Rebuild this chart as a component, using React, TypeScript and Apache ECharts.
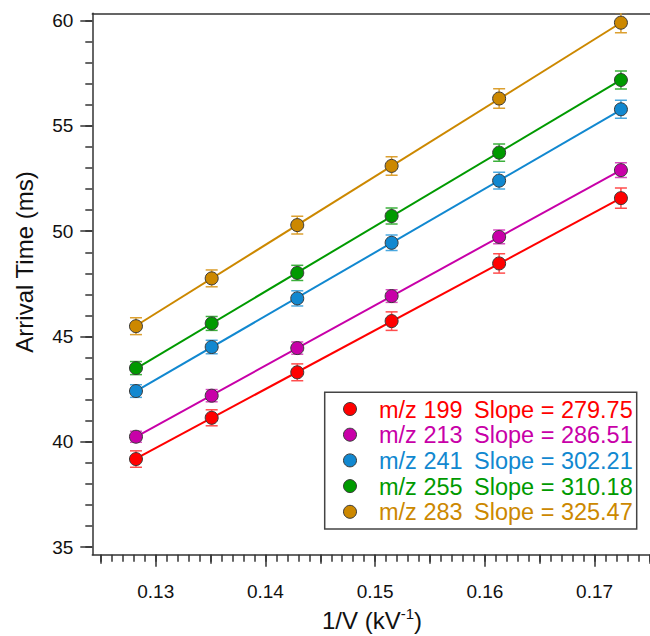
import React, { useEffect, useRef } from 'react';
import * as echarts from 'echarts';

// ---- data ----
const X_VALUES = [0.1282, 0.1351, 0.1429, 0.1515, 0.1613, 0.1724];

const MASS_LABELS = ['m/z 199', 'm/z 213', 'm/z 241', 'm/z 255', 'm/z 283'];
const SLOPES = [279.75, 286.51, 302.21, 310.18, 325.47];

const MZ199 = [39.18, 41.14, 43.3, 45.73, 48.47, 51.57];
const MZ213 = [40.24, 42.19, 44.45, 46.92, 49.73, 52.9];
const MZ241 = [42.41, 44.5, 46.81, 49.45, 52.4, 55.79];
const MZ255 = [43.5, 45.62, 48.02, 50.72, 53.73, 57.18];
const MZ283 = [45.49, 47.76, 50.29, 53.1, 56.3, 59.9];

const ERR199 = [0.39, 0.38, 0.4, 0.44, 0.46, 0.48];
const ERR213 = [0.26, 0.29, 0.29, 0.3, 0.33, 0.35];
const ERR241 = [0.3, 0.32, 0.36, 0.37, 0.4, 0.43];
const ERR255 = [0.31, 0.33, 0.36, 0.38, 0.41, 0.43];
const ERR283 = [0.4, 0.4, 0.42, 0.44, 0.46, 0.48];

const X_TICK_LABELS = [0.13, 0.14, 0.15, 0.16, 0.17];
const Y_TICK_LABELS = [35, 40, 45, 50, 55, 60];

// ---- styling ----
const COLORS = ['#ff0000', '#c800a8', '#1188d0', '#009a00', '#cc8800'];
const BAR_COLORS = ['#ff4d4d', '#d84cc0', '#4aa8e0', '#3cb03c', '#dca030'];
const AXIS_COLOR = '#333333';
const TEXT_COLOR = '#111111';
const FONT = "'Liberation Sans', Arial, sans-serif";

const X_MIN = 0.12422;
const X_MAX = 0.17505;
const Y_MIN = 34.634;
const Y_MAX = 60.347;

const SERIES_Y = [MZ199, MZ213, MZ241, MZ255, MZ283];
const SERIES_ERR = [ERR199, ERR213, ERR241, ERR255, ERR283];

function range(a: number, b: number, step: number, scale: number): number[] {
  const out: number[] = [];
  for (let i = a; i <= b; i += step) out.push(i / scale);
  return out;
}

const X_MEDIUM_TICKS = range(125, 175, 10, 1000);
const X_MINOR_TICKS = range(125, 175, 1, 1000);
const Y_MINOR_TICKS = range(35, 60, 1, 1);

export default function App() {
  const ref = useRef<HTMLDivElement>(null);

  useEffect(() => {
    if (!ref.current) return;
    const chart = echarts.init(ref.current, undefined, { renderer: 'svg' });

    const series: any[] = [];
    SERIES_Y.forEach((ys, k) => {
      const n = ys.length;
      const mx = X_VALUES.reduce((s, v) => s + v, 0) / n;
      const my = ys.reduce((s, v) => s + v, 0) / n;
      const b = my - SLOPES[k] * mx;
      const x0 = X_VALUES[0];
      const x1 = X_VALUES[n - 1];
      series.push({
        type: 'line',
        name: MASS_LABELS[k] + ' fit',
        xAxisIndex: 0,
        yAxisIndex: 0,
        data: [
          [x0, SLOPES[k] * x0 + b],
          [x1, SLOPES[k] * x1 + b],
        ],
        showSymbol: false,
        symbol: 'none',
        lineStyle: { color: COLORS[k], width: 2 },
        z: 2,
        silent: true,
      });
      const errs = SERIES_ERR[k];
      series.push({
        type: 'custom',
        name: MASS_LABELS[k] + ' err',
        xAxisIndex: 0,
        yAxisIndex: 0,
        clip: true,
        silent: true,
        z: 3,
        data: X_VALUES.map((x, i) => [x, ys[i] - errs[i], ys[i] + errs[i]]),
        encode: { x: 0, y: [1, 2] },
        renderItem: (params: any, api: any) => {
          const x = api.value(0);
          const lo = api.coord([x, api.value(1)]);
          const hi = api.coord([x, api.value(2)]);
          const w = 6;
          const style = { stroke: BAR_COLORS[k], lineWidth: 1.5 };
          return {
            type: 'group',
            children: [
              { type: 'line', shape: { x1: lo[0], y1: lo[1], x2: hi[0], y2: hi[1] }, style },
              { type: 'line', shape: { x1: lo[0] - w, y1: lo[1], x2: lo[0] + w, y2: lo[1] }, style },
              { type: 'line', shape: { x1: hi[0] - w, y1: hi[1], x2: hi[0] + w, y2: hi[1] }, style },
            ],
          };
        },
      });
      series.push({
        type: 'scatter',
        name: MASS_LABELS[k],
        xAxisIndex: 0,
        yAxisIndex: 0,
        data: X_VALUES.map((x, i) => [x, ys[i]]),
        symbol: 'circle',
        symbolSize: 13,
        itemStyle: { color: COLORS[k], borderColor: '#3a3a3a', borderWidth: 1, opacity: 1 },
        z: 4,
        silent: true,
      });
    });

    const baseX = { type: 'value', min: X_MIN, max: X_MAX, gridIndex: 0, splitLine: { show: false } };
    const baseY = { type: 'value', min: Y_MIN, max: Y_MAX, gridIndex: 0, splitLine: { show: false } };

    const legendChildren: any[] = [];
    const boxLeft = 324.7;
    const boxTop = 392.3;
    legendChildren.push({
      type: 'rect',
      shape: { x: boxLeft, y: boxTop, width: 312, height: 136.7 },
      style: { fill: '#ffffff', stroke: '#444444', lineWidth: 1.5 },
    });
    MASS_LABELS.forEach((lab, k) => {
      const cy = 409 + 25.7 * k;
      legendChildren.push({
        type: 'circle',
        shape: { cx: 350, cy, r: 6.5 },
        style: { fill: COLORS[k], stroke: '#3a3a3a', lineWidth: 1 },
      });
      legendChildren.push({
        type: 'text',
        x: 379,
        y: cy + 0.5,
        style: {
          text: lab,
          fill: COLORS[k],
          font: `23.5px ${FONT}`,
          textAlign: 'left',
          textVerticalAlign: 'middle',
        },
      });
      legendChildren.push({
        type: 'text',
        x: 474,
        y: cy + 0.5,
        style: {
          text: 'Slope = ' + SLOPES[k].toFixed(2),
          fill: COLORS[k],
          font: `23.5px ${FONT}`,
          textAlign: 'left',
          textVerticalAlign: 'middle',
        },
      });
    });

    const option: any = {
      animation: false,
      backgroundColor: '#ffffff',
      grid: { left: 92.3, right: 0, top: 13.3, bottom: 81.2, containLabel: false },
      xAxis: [
        {
          ...baseX,
          position: 'bottom',
          axisLine: { show: true, onZero: false, lineStyle: { color: AXIS_COLOR, width: 1.5 } },
          axisTick: { show: true, customValues: X_TICK_LABELS, length: 12, lineStyle: { color: AXIS_COLOR, width: 1.5 } },
          axisLabel: {
            show: true,
            customValues: X_TICK_LABELS,
            fontSize: 19,
            fontFamily: FONT,
            color: TEXT_COLOR,
            margin: 27,
            formatter: (v: number) => v.toFixed(2),
          },
        },
        {
          ...baseX,
          position: 'bottom',
          axisLine: { show: false, onZero: false },
          axisTick: { show: true, customValues: X_MEDIUM_TICKS, length: 9, lineStyle: { color: AXIS_COLOR, width: 1.5 } },
          axisLabel: { show: false },
        },
        {
          ...baseX,
          position: 'bottom',
          axisLine: { show: false, onZero: false },
          axisTick: { show: true, customValues: X_MINOR_TICKS, length: 7, lineStyle: { color: AXIS_COLOR, width: 1.5 } },
          axisLabel: { show: false },
        },
        {
          ...baseX,
          position: 'top',
          axisLine: { show: true, onZero: false, lineStyle: { color: AXIS_COLOR, width: 1.5 } },
          axisTick: { show: false },
          axisLabel: { show: false },
        },
      ],
      yAxis: [
        {
          ...baseY,
          position: 'left',
          axisLine: { show: true, onZero: false, lineStyle: { color: AXIS_COLOR, width: 1.5 } },
          axisTick: { show: true, customValues: Y_TICK_LABELS, length: 12, lineStyle: { color: AXIS_COLOR, width: 1.5 } },
          axisLabel: {
            show: true,
            customValues: Y_TICK_LABELS,
            fontSize: 19,
            fontFamily: FONT,
            color: TEXT_COLOR,
            margin: 19,
          },
        },
        {
          ...baseY,
          position: 'left',
          axisLine: { show: false, onZero: false },
          axisTick: { show: true, customValues: Y_MINOR_TICKS, length: 7, lineStyle: { color: AXIS_COLOR, width: 1.5 } },
          axisLabel: { show: false },
        },
      ],
      series,
      graphic: [
        {
          type: 'text',
          x: 24,
          y: 262,
          rotation: Math.PI / 2,
          style: {
            text: 'Arrival Time (ms)',
            fill: TEXT_COLOR,
            font: `24px ${FONT}`,
            textAlign: 'center',
            textVerticalAlign: 'middle',
          },
        },
        {
          type: 'text',
          x: 372,
          y: 620,
          style: {
            text: '{m|1/V (kV}{s|-1}{m|)}',
            fill: TEXT_COLOR,
            font: `24px ${FONT}`,
            textAlign: 'center',
            textVerticalAlign: 'middle',
            rich: {
              m: { fontSize: 24, fontFamily: FONT, lineHeight: 28, fill: TEXT_COLOR },
              s: { fontSize: 15, fontFamily: FONT, lineHeight: 28, verticalAlign: 'top', padding: [0, 0, 10, 0], fill: TEXT_COLOR },
            },
          },
        },
        { type: 'group', children: legendChildren, z: 100 },
      ],
    };

    chart.setOption(option);
    return () => {
      chart.dispose();
    };
  }, []);

  return (
    <div
      ref={ref}
      style={{ position: 'absolute', left: 0, top: 0, width: 650, height: 636 }}
    />
  );
}
